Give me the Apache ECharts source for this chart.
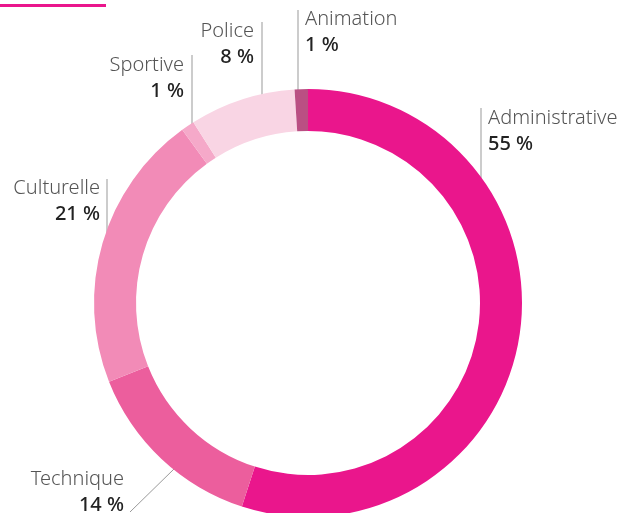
<!DOCTYPE html>
<html>
<head>
<meta charset="utf-8">
<script src="https://cdn.jsdelivr.net/npm/echarts@6/dist/echarts.min.js"></script>
<style>
  html, body { margin: 0; padding: 0; background: #fff; }
  #chart { width: 624px; height: 513px; }
</style>
</head>
<body>
<div id="chart"></div>
<script>
  // données
  const categories = ['Administrative', 'Technique', 'Culturelle', 'Sportive', 'Police', 'Animation']
  const values = [55, 14, 21, 1, 8, 1]
  const colors = ['#ea168c', '#ec5e9d', '#f28bb7', '#f5a9c9', '#f9d5e4', '#ba4f83']

  // position des étiquettes : [x, y, alignement, points du trait]
  const labelPos = [
    [488, 105, 'left', [[481, 108], [481, 212]]],
    [124, 466, 'right', [[130, 512], [175, 468]]],
    [100, 175, 'right', [[107, 179], [107, 283]]],
    [184, 52, 'right', [[192, 55], [192, 130]]],
    [254, 18, 'right', [[262, 22], [262, 107]]],
    [305, 6, 'left', [[298, 10], [298, 97]]]
  ]

  const chart = echarts.init(document.getElementById('chart'))

  const option = {
    animation: false,
    graphic: [
      {
        type: 'rect',
        shape: { x: 0, y: 4, width: 106, height: 3 },
        style: { fill: '#ea168c' }
      }
    ],
    series: [
      {
        type: 'pie',
        center: [308, 303],
        radius: [172, 214],
        startAngle: 90,
        clockwise: true,
        silent: true,
        data: categories.map((name, i) => ({
          name: name,
          value: values[i],
          itemStyle: { color: colors[i] }
        })),
        label: {
          show: true,
          overflow: 'none',
          formatter: p => '{n|' + p.name + '}\n{v|' + p.value + ' %}',
          rich: {
            n: { fontFamily: 'Noto Sans', fontWeight: 300, fontSize: 20, color: '#555', lineHeight: 26 },
            v: { fontFamily: 'Noto Sans', fontWeight: 500, fontSize: 20, color: '#222', lineHeight: 26 }
          }
        },
        labelLine: {
          show: true,
          lineStyle: { color: '#999', width: 1 }
        },
        labelLayout: params => {
          const pos = labelPos[params.dataIndex]
          return {
            x: pos[0],
            y: pos[1],
            align: pos[2],
            verticalAlign: 'top',
            labelLinePoints: pos[3]
          }
        }
      }
    ]
  }
  chart.setOption(option)

  window.addEventListener('resize', () => {
    chart.resize()
  })
</script>
</body>
</html>
